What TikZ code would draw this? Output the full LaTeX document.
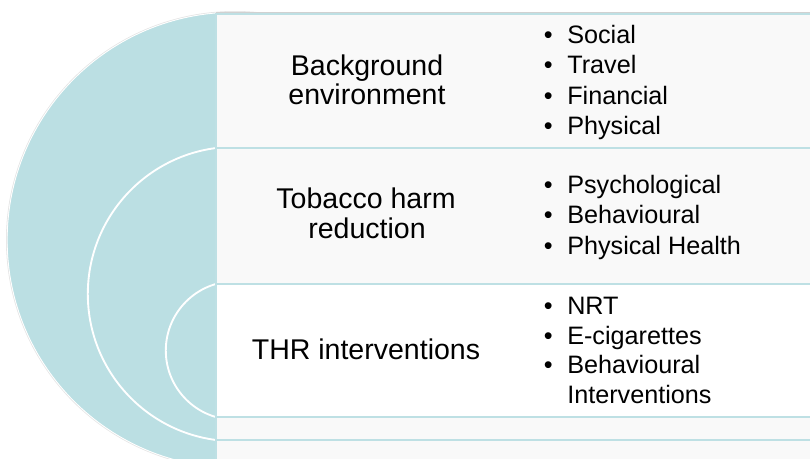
\documentclass[tikz,border=0pt]{standalone}
\usepackage{fontspec}
\setmainfont{Liberation Sans}
\definecolor{ringfill}{HTML}{BBDFE3}
\definecolor{rimline}{HTML}{BEE0E4}
\definecolor{paper}{HTML}{F9F9F9}
\newlength\pxu
\setlength\pxu{0.75pt}
\begin{document}
\begin{tikzpicture}[x=0.75pt,y=-0.75pt,
  title/.style={anchor=base,inner sep=0pt,font=\fontsize{21.4}{25}\selectfont},
  item/.style={anchor=base west,inner sep=0pt,font=\fontsize{18.9}{22}\selectfont},
  band/.style={draw=rimline,line width=1.8pt,fill=paper},
  ring/.style={draw=white,line width=1.4pt}]
\useasboundingbox (0,0) rectangle (810,458);
\clip (0,0) rectangle (810,458);

% nested target discs
\fill[ringfill] (235,240) circle (170.85pt);
\draw[black!10,line width=0.7pt] (235,240) circle (171.4pt);
\draw[white,line width=0.6pt] (235,240) circle (170.85pt);
\draw[ring] (235,294) circle (110.4pt);
\draw[ring] (235,350.5) circle (51.9pt);

% stacked bands
\draw[black!18,line width=0.8pt] (216,12.2) -- (820,12.2);
\draw[band] (216,14) rectangle (830,480);
\draw[band] (216,148) rectangle (830,440);
\draw[band,fill=white] (216,284) rectangle (830,417);

% level titles
\node[title] (bg1) at (367,75) {Background};
\node[title] (bg2) at (367,104) {environment};
\node[title] (th1) at (366,208) {Tobacco harm};
\node[title] (th2) at (367,238) {reduction};
\node[title] (iv1) at (366,359) {THR interventions};

% bullet lists
\node[item] (s1) at (543.5,43) {\makebox[23.5\pxu][l]{\textbullet}Social};
\node[item] (s2) at (543.5,73.5) {\makebox[23.5\pxu][l]{\textbullet}Travel};
\node[item] (s3) at (543.5,104) {\makebox[23.5\pxu][l]{\textbullet}Financial};
\node[item] (s4) at (543.5,134.5) {\makebox[23.5\pxu][l]{\textbullet}Physical};

\node[item] (h1) at (543.5,193) {\makebox[23.5\pxu][l]{\textbullet}Psychological};
\node[item] (h2) at (543.5,223.5) {\makebox[23.5\pxu][l]{\textbullet}Behavioural};
\node[item] (h3) at (543.5,254) {\makebox[23.5\pxu][l]{\textbullet}Physical Health};

\node[item] (t1) at (543.5,314) {\makebox[23.5\pxu][l]{\textbullet}NRT};
\node[item] (t2) at (543.5,344) {\makebox[23.5\pxu][l]{\textbullet}E-cigarettes};
\node[item] (t3) at (543.5,373.5) {\makebox[23.5\pxu][l]{\textbullet}Behavioural};
\node[item] (t4) at (567,403) {Interventions};
\end{tikzpicture}
\end{document}
